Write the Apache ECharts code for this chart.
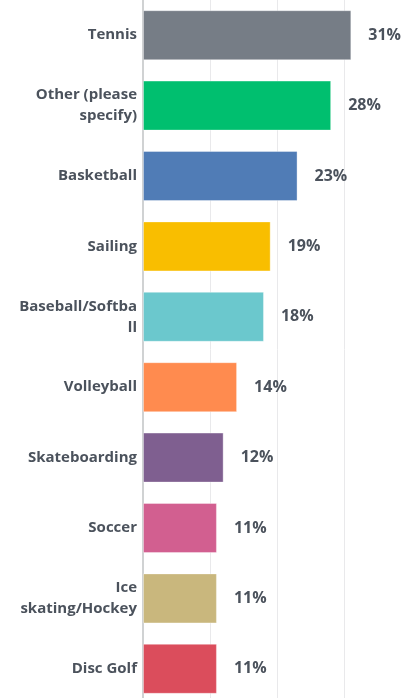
<!DOCTYPE html>
<html>
<head>
<meta charset="utf-8">
<script src="https://cdn.jsdelivr.net/npm/echarts@6/dist/echarts.min.js"></script>
<style>
  html, body { margin: 0; padding: 0; background: #fff; }
  #chart { width: 402px; height: 698px; }
</style>
</head>
<body>
<div id="chart"></div>
<script>
// categories, top to bottom (line breaks as shown in the picture)
const sports = [
  'Tennis',
  'Other (please\nspecify)',
  'Basketball',
  'Sailing',
  'Baseball/Softba\nll',
  'Volleyball',
  'Skateboarding',
  'Soccer',
  'Ice\nskating/Hockey',
  'Disc Golf'
]
// percent of respondents
const percents = [31, 28, 23, 19, 18, 14, 12, 11, 11, 11]
const barColors = [
  '#767d86', '#00bf6f', '#507cb6', '#f9be00', '#6bc8cd',
  '#ff8b4f', '#7f5f90', '#d25f90', '#c9b77d', '#db4d5c'
]

const myChart = echarts.init(document.getElementById('chart'))
const option = {
  animation: false,
  grid: {
    left: 143,
    top: 0,
    width: 672,
    height: 704,
    containLabel: false,
    outerBoundsMode: 'none'
  },
  xAxis: {
    type: 'value',
    min: 0,
    max: 100,
    interval: 10,
    axisLabel: { show: false },
    axisLine: { show: false },
    axisTick: { show: false },
    splitLine: {
      lineStyle: { color: '#e9e9eb', width: 1 }
    }
  },
  yAxis: {
    type: 'category',
    inverse: true,
    data: sports,
    axisTick: { show: false },
    axisLine: {
      lineStyle: { color: '#d0d2d3', width: 2 }
    },
    axisLabel: {
      margin: 6,
      color: '#4b525c',
      fontFamily: 'Open Sans',
      fontWeight: 'bold',
      fontSize: 15,
      lineHeight: 21,
      align: 'right'
    }
  },
  series: [
    {
      type: 'bar',
      barWidth: 50,
      data: percents.map((v, i) => ({
        value: v,
        itemStyle: { color: barColors[i] }
      })),
      itemStyle: {
        borderColor: 'rgba(255,255,255,0.35)',
        borderWidth: 1
      },
      label: {
        show: true,
        position: 'right',
        distance: 17,
        formatter: '{c}%',
        color: '#4b525c',
        fontFamily: 'Open Sans',
        fontWeight: 'bold',
        fontSize: 16
      }
    }
  ]
}
myChart.setOption(option)
</script>
</body>
</html>
